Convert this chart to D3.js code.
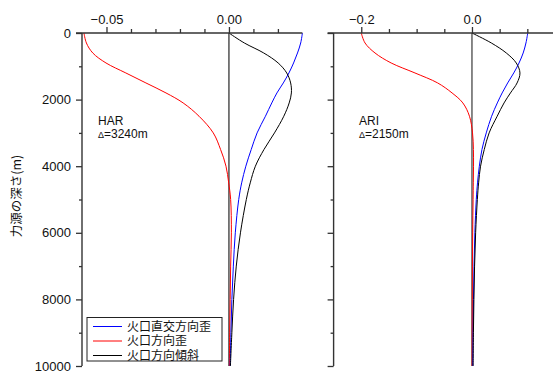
<!DOCTYPE html>
<html><head><meta charset="utf-8">
<script src="https://cdn.jsdelivr.net/npm/d3@7"></script>
<style>
body{margin:0;background:#fff;}
text{font-family:"Liberation Sans",Arial,sans-serif;}
.jp{font-family:"Noto Sans CJK JP",sans-serif;}
</style></head><body>
<svg id="c" width="553" height="376"></svg>
<script>
// ---- data ----
const depths = [0,300,600,900,1200,1500,1800,2100,2500,3000,3500,4000,4500,5000,6000,7000,8000,9000,10000];
// HAR
const harPerp  = [0.0300,0.0293,0.0280,0.0264,0.0245,0.0222,0.0196,0.0175,0.0149,0.0115,0.0091,0.0069,0.0052,0.0040,0.0026,0.0018,0.0012,0.0008,0.0005];
const harRad   = [-0.0592,-0.0582,-0.0556,-0.0502,-0.0421,-0.0339,-0.0257,-0.0187,-0.0122,-0.0064,-0.0034,-0.0012,-0.0001,0.0007,0.0010,0.0007,0.0005,0.0003,0.0002];
const harTilt  = [0,0.0063,0.0142,0.0201,0.0236,0.0252,0.0255,0.0246,0.0224,0.0186,0.0143,0.0108,0.0087,0.0071,0.0047,0.0030,0.0019,0.0012,0.0006];
// ARI
const ariPerp  = [0.1008,0.0975,0.0925,0.0850,0.0755,0.0645,0.0545,0.0458,0.0355,0.0258,0.0180,0.0133,0.0100,0.0078,0.0052,0.0037,0.0027,0.0020,0.0015];
const ariRad   = [-0.200,-0.1932,-0.1752,-0.1460,-0.1030,-0.0620,-0.0360,-0.0165,-0.0045,0.0010,0.0026,0.0028,0.0024,0.0020,0.0013,0.0008,0.0005,0.0003,0.0002];
const ariTilt  = [0,0.0350,0.0620,0.0800,0.0867,0.0815,0.0695,0.0580,0.0455,0.0310,0.0222,0.0155,0.0120,0.0097,0.0066,0.0047,0.0035,0.0026,0.0020];

const seriesNames = ["火口直交方向歪","火口方向歪","火口方向傾斜"];
const seriesColors = ["#0000ff","#ff0000","#000000"];
const yTicksMajor = [0,2000,4000,6000,8000,10000];
const yTicksMinor = [1000,3000,5000,7000,9000];
const harXMajor = [-0.05,0.00], harXMinor = [-0.04,-0.03,-0.02,-0.01,0.01,0.02];
const ariXMajor = [-0.2,0.0], ariXMinor = [-0.15,-0.1,-0.05,0.05,0.1];
const panels = [
  {name:"HAR", delta:"=3240m", domain:[-0.06,0.03], range:[82,302.4], major:harXMajor, minor:harXMinor, fmt:".2f", series:[harPerp,harRad,harTilt], labels:true, lx:98},
  {name:"ARI", delta:"=2150m", domain:[-0.25,0.15], range:[333.6,555], major:ariXMajor, minor:ariXMinor, fmt:".1f", series:[ariPerp,ariRad,ariTilt], labels:false, lx:359}
];

const svg = d3.select("#c");
const y = d3.scaleLinear().domain([0,10000]).range([33,366]);
const axisColor = "#333";

panels.forEach((p,pi)=>{
  const x = d3.scaleLinear().domain(p.domain).range(p.range);
  const g = svg.append("g");
  // zero line
  g.append("line").attr("x1",x(0)).attr("x2",x(0)).attr("y1",y(0)).attr("y2",y(10000))
    .attr("stroke", pi===0?"#444":"#111").attr("stroke-width", pi===0?1.4:1);
  // curves
  const line = d3.line().x(d=>x(d[1])).y(d=>y(d[0])).curve(d3.curveCatmullRom.alpha(0.5));
  [1,0,2].forEach(si=>{
    g.append("path").datum(depths.map((dd,i)=>[dd,p.series[si][i]]))
      .attr("d",line).attr("fill","none").attr("stroke",seriesColors[si]).attr("stroke-width",1);
  });
  // top axis major
  const top = g.append("g").attr("transform",`translate(0,${y(0)})`)
    .call(d3.axisTop(x).tickValues(p.major).tickSize(6).tickPadding(3)
      .tickFormat(v=>d3.format(p.fmt)(v).replace("-","−")));
  top.select(".domain").remove();
  top.selectAll("line").attr("stroke",axisColor).attr("stroke-width",1.3);
  top.selectAll("text").attr("font-size",13).attr("fill","#111");
  const topm = g.append("g").attr("transform",`translate(0,${y(0)})`)
    .call(d3.axisTop(x).tickValues(p.minor).tickSize(4).tickFormat(""));
  topm.select(".domain").remove();
  topm.selectAll("line").attr("stroke",axisColor).attr("stroke-width",1.3);
  g.append("line").attr("x1",p.range[0]-6).attr("x2",p.range[1]).attr("y1",y(0)).attr("y2",y(0))
    .attr("stroke",axisColor).attr("stroke-width",1.4);
  // left axis
  const left = g.append("g").attr("transform",`translate(${p.range[0]},0)`)
    .call(d3.axisLeft(y).tickValues(yTicksMajor).tickSize(6).tickPadding(5)
      .tickFormat(p.labels? d3.format("d") : ""));
  left.select(".domain").remove();
  left.selectAll("line").attr("stroke",axisColor).attr("stroke-width",1.3);
  left.selectAll("text").attr("font-size",13).attr("fill","#111");
  const leftm = g.append("g").attr("transform",`translate(${p.range[0]},0)`)
    .call(d3.axisLeft(y).tickValues(yTicksMinor).tickSize(3).tickFormat(""));
  leftm.select(".domain").remove();
  leftm.selectAll("line").attr("stroke",axisColor).attr("stroke-width",1.3);
  g.append("line").attr("x1",p.range[0]).attr("x2",p.range[0]).attr("y1",y(0)).attr("y2",y(10000))
    .attr("stroke",axisColor).attr("stroke-width",1.4);
  // station label
  g.append("text").attr("x",p.lx).attr("y",124.5).attr("font-size",12).attr("fill","#111").text(p.name);
  const t = g.append("text").attr("x",p.lx).attr("y",137.5).attr("font-size",12).attr("fill","#111");
  t.append("tspan").attr("font-size",9).text("Δ");
  t.append("tspan").text(p.delta);
});

// y title
svg.append("text").attr("class","jp").attr("transform","translate(21,196) rotate(-90)")
  .attr("text-anchor","middle").attr("font-size",12.5).attr("fill","#111").text("力源の深さ(m)");

// legend
const lg = svg.append("g");
lg.append("rect").attr("x",87).attr("y",317.5).attr("width",135).attr("height",43.5)
  .attr("fill","#fff").attr("stroke","#222").attr("stroke-width",1);
seriesNames.forEach((n,i)=>{
  const yy = 326.5 + i*14.5;
  lg.append("line").attr("x1",93).attr("x2",122).attr("y1",yy).attr("y2",yy)
    .attr("stroke",seriesColors[i]).attr("stroke-width",1);
  lg.append("text").attr("class","jp").attr("x",127).attr("y",yy).attr("dy","0.36em")
    .attr("font-size",12).attr("fill","#111").text(n);
});
</script></body></html>
